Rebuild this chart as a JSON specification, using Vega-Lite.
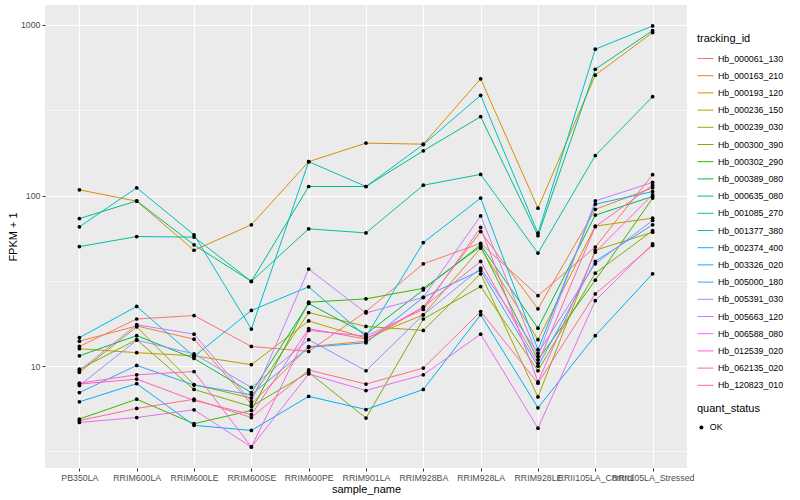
{
  "$schema": "https://vega.github.io/schema/vega-lite/v6.json",
  "width": 642,
  "height": 463,
  "autosize": {"type": "none"},
  "padding": {"left": 45, "top": 5, "right": 113, "bottom": 32},
  "background": "white",
  "config": {
    "font": "Liberation Sans",
    "view": {"fill": "#EBEBEB", "stroke": null},
    "axis": {"domain": false, "labelFont": "Liberation Sans", "titleFont": "Liberation Sans"},
    "legend": {"labelFont": "Liberation Sans", "titleFont": "Liberation Sans"}
  },
  "data": {"values": [
    {"id":"Hb_000193_120","s":"PB350LA","v":108},{"id":"Hb_000193_120","s":"RRIM600LA","v":92.7},{"id":"Hb_000193_120","s":"RRIM600LE","v":47.8},{"id":"Hb_000193_120","s":"RRIM600SE","v":67.4},{"id":"Hb_000193_120","s":"RRIM600PE","v":158},{"id":"Hb_000193_120","s":"RRIM901LA","v":203},{"id":"Hb_000193_120","s":"RRIM928BA","v":200},{"id":"Hb_000193_120","s":"RRIM928LA","v":483},{"id":"Hb_000193_120","s":"RRIM928LE","v":84.4},{"id":"Hb_000193_120","s":"RRII105LA_Control","v":508},{"id":"Hb_000193_120","s":"RRII105LA_Stressed","v":902},
    {"id":"Hb_001377_380","s":"PB350LA","v":65.6},{"id":"Hb_001377_380","s":"RRIM600LA","v":111},{"id":"Hb_001377_380","s":"RRIM600LE","v":58.9},{"id":"Hb_001377_380","s":"RRIM600SE","v":16.5},{"id":"Hb_001377_380","s":"RRIM600PE","v":158},{"id":"Hb_001377_380","s":"RRIM901LA","v":113},{"id":"Hb_001377_380","s":"RRIM928BA","v":199},{"id":"Hb_001377_380","s":"RRIM928LA","v":387},{"id":"Hb_001377_380","s":"RRIM928LE","v":60.2},{"id":"Hb_001377_380","s":"RRII105LA_Control","v":721},{"id":"Hb_001377_380","s":"RRII105LA_Stressed","v":986},
    {"id":"Hb_000635_080","s":"PB350LA","v":73.3},{"id":"Hb_000635_080","s":"RRIM600LA","v":93},{"id":"Hb_000635_080","s":"RRIM600LE","v":51.4},{"id":"Hb_000635_080","s":"RRIM600SE","v":31.4},{"id":"Hb_000635_080","s":"RRIM600PE","v":113},{"id":"Hb_000635_080","s":"RRIM901LA","v":113},{"id":"Hb_000635_080","s":"RRIM928BA","v":183},{"id":"Hb_000635_080","s":"RRIM928LA","v":290},{"id":"Hb_000635_080","s":"RRIM928LE","v":58.2},{"id":"Hb_000635_080","s":"RRII105LA_Control","v":550},{"id":"Hb_000635_080","s":"RRII105LA_Stressed","v":926},
    {"id":"Hb_001085_270","s":"PB350LA","v":50.2},{"id":"Hb_001085_270","s":"RRIM600LA","v":57.5},{"id":"Hb_001085_270","s":"RRIM600LE","v":57.1},{"id":"Hb_001085_270","s":"RRIM600SE","v":31.4},{"id":"Hb_001085_270","s":"RRIM600PE","v":63.8},{"id":"Hb_001085_270","s":"RRIM901LA","v":60.4},{"id":"Hb_001085_270","s":"RRIM928BA","v":115},{"id":"Hb_001085_270","s":"RRIM928LA","v":133},{"id":"Hb_001085_270","s":"RRIM928LE","v":46},{"id":"Hb_001085_270","s":"RRII105LA_Control","v":171.6},{"id":"Hb_001085_270","s":"RRII105LA_Stressed","v":380},
    {"id":"Hb_000061_130","s":"PB350LA","v":13.05},{"id":"Hb_000061_130","s":"RRIM600LA","v":18.9},{"id":"Hb_000061_130","s":"RRIM600LE","v":19.8},{"id":"Hb_000061_130","s":"RRIM600SE","v":13.05},{"id":"Hb_000061_130","s":"RRIM600PE","v":12.2},{"id":"Hb_000061_130","s":"RRIM901LA","v":20.9},{"id":"Hb_000061_130","s":"RRIM928BA","v":39.8},{"id":"Hb_000061_130","s":"RRIM928LA","v":52.5},{"id":"Hb_000061_130","s":"RRIM928LE","v":25.9},{"id":"Hb_000061_130","s":"RRII105LA_Control","v":49.9},{"id":"Hb_000061_130","s":"RRII105LA_Stressed","v":132.6},
    {"id":"Hb_000163_210","s":"PB350LA","v":14.0},{"id":"Hb_000163_210","s":"RRIM600LA","v":17.2},{"id":"Hb_000163_210","s":"RRIM600LE","v":14.4},{"id":"Hb_000163_210","s":"RRIM600SE","v":6.0},{"id":"Hb_000163_210","s":"RRIM600PE","v":13.0},{"id":"Hb_000163_210","s":"RRIM901LA","v":14.0},{"id":"Hb_000163_210","s":"RRIM928BA","v":22.2},{"id":"Hb_000163_210","s":"RRIM928LA","v":61.5},{"id":"Hb_000163_210","s":"RRIM928LE","v":21.7},{"id":"Hb_000163_210","s":"RRII105LA_Control","v":83},{"id":"Hb_000163_210","s":"RRII105LA_Stressed","v":111},
    {"id":"Hb_000236_150","s":"PB350LA","v":12.65},{"id":"Hb_000236_150","s":"RRIM600LA","v":12.0},{"id":"Hb_000236_150","s":"RRIM600LE","v":11.5},{"id":"Hb_000236_150","s":"RRIM600SE","v":10.2},{"id":"Hb_000236_150","s":"RRIM600PE","v":18.4},{"id":"Hb_000236_150","s":"RRIM901LA","v":14.6},{"id":"Hb_000236_150","s":"RRIM928BA","v":20},{"id":"Hb_000236_150","s":"RRIM928LA","v":49.2},{"id":"Hb_000236_150","s":"RRIM928LE","v":14.3},{"id":"Hb_000236_150","s":"RRII105LA_Control","v":66.2},{"id":"Hb_000236_150","s":"RRII105LA_Stressed","v":73.7},
    {"id":"Hb_000239_030","s":"PB350LA","v":9.2},{"id":"Hb_000239_030","s":"RRIM600LA","v":17.0},{"id":"Hb_000239_030","s":"RRIM600LE","v":7.8},{"id":"Hb_000239_030","s":"RRIM600SE","v":6.5},{"id":"Hb_000239_030","s":"RRIM600PE","v":20.6},{"id":"Hb_000239_030","s":"RRIM901LA","v":17.1},{"id":"Hb_000239_030","s":"RRIM928BA","v":16.2},{"id":"Hb_000239_030","s":"RRIM928LA","v":34.8},{"id":"Hb_000239_030","s":"RRIM928LE","v":6.6},{"id":"Hb_000239_030","s":"RRII105LA_Control","v":47.8},{"id":"Hb_000239_030","s":"RRII105LA_Stressed","v":61},
    {"id":"Hb_000300_390","s":"PB350LA","v":9.6},{"id":"Hb_000300_390","s":"RRIM600LA","v":14.3},{"id":"Hb_000300_390","s":"RRIM600LE","v":7.3},{"id":"Hb_000300_390","s":"RRIM600SE","v":5.8},{"id":"Hb_000300_390","s":"RRIM600PE","v":9.2},{"id":"Hb_000300_390","s":"RRIM901LA","v":4.96},{"id":"Hb_000300_390","s":"RRIM928BA","v":18.9},{"id":"Hb_000300_390","s":"RRIM928LA","v":29.3},{"id":"Hb_000300_390","s":"RRIM928LE","v":9.4},{"id":"Hb_000300_390","s":"RRII105LA_Control","v":35.1},{"id":"Hb_000300_390","s":"RRII105LA_Stressed","v":62.2},
    {"id":"Hb_000302_290","s":"PB350LA","v":4.9},{"id":"Hb_000302_290","s":"RRIM600LA","v":6.4},{"id":"Hb_000302_290","s":"RRIM600LE","v":4.6},{"id":"Hb_000302_290","s":"RRIM600SE","v":5.5},{"id":"Hb_000302_290","s":"RRIM600PE","v":23.7},{"id":"Hb_000302_290","s":"RRIM901LA","v":24.8},{"id":"Hb_000302_290","s":"RRIM928BA","v":28.6},{"id":"Hb_000302_290","s":"RRIM928LA","v":50.3},{"id":"Hb_000302_290","s":"RRIM928LE","v":10.9},{"id":"Hb_000302_290","s":"RRII105LA_Control","v":31.9},{"id":"Hb_000302_290","s":"RRII105LA_Stressed","v":96.6},
    {"id":"Hb_000389_080","s":"PB350LA","v":11.5},{"id":"Hb_000389_080","s":"RRIM600LA","v":15.1},{"id":"Hb_000389_080","s":"RRIM600LE","v":11.1},{"id":"Hb_000389_080","s":"RRIM600SE","v":7.0},{"id":"Hb_000389_080","s":"RRIM600PE","v":23.3},{"id":"Hb_000389_080","s":"RRIM901LA","v":15.4},{"id":"Hb_000389_080","s":"RRIM928BA","v":28},{"id":"Hb_000389_080","s":"RRIM928LA","v":51.4},{"id":"Hb_000389_080","s":"RRIM928LE","v":16.7},{"id":"Hb_000389_080","s":"RRII105LA_Control","v":76.8},{"id":"Hb_000389_080","s":"RRII105LA_Stressed","v":98.8},
    {"id":"Hb_002374_400","s":"PB350LA","v":14.7},{"id":"Hb_002374_400","s":"RRIM600LA","v":22.4},{"id":"Hb_002374_400","s":"RRIM600LE","v":11.4},{"id":"Hb_002374_400","s":"RRIM600SE","v":21.2},{"id":"Hb_002374_400","s":"RRIM600PE","v":29.2},{"id":"Hb_002374_400","s":"RRIM901LA","v":14.9},{"id":"Hb_002374_400","s":"RRIM928BA","v":53},{"id":"Hb_002374_400","s":"RRIM928LA","v":96.6},{"id":"Hb_002374_400","s":"RRIM928LE","v":12.5},{"id":"Hb_002374_400","s":"RRII105LA_Control","v":89},{"id":"Hb_002374_400","s":"RRII105LA_Stressed","v":105.5},
    {"id":"Hb_003326_020","s":"PB350LA","v":6.18},{"id":"Hb_003326_020","s":"RRIM600LA","v":7.9},{"id":"Hb_003326_020","s":"RRIM600LE","v":4.5},{"id":"Hb_003326_020","s":"RRIM600SE","v":4.2},{"id":"Hb_003326_020","s":"RRIM600PE","v":6.65},{"id":"Hb_003326_020","s":"RRIM901LA","v":5.57},{"id":"Hb_003326_020","s":"RRIM928BA","v":7.3},{"id":"Hb_003326_020","s":"RRIM928LA","v":20},{"id":"Hb_003326_020","s":"RRIM928LE","v":5.7},{"id":"Hb_003326_020","s":"RRII105LA_Control","v":15.1},{"id":"Hb_003326_020","s":"RRII105LA_Stressed","v":34.8},
    {"id":"Hb_005000_180","s":"PB350LA","v":7.0},{"id":"Hb_005000_180","s":"RRIM600LA","v":10.1},{"id":"Hb_005000_180","s":"RRIM600LE","v":7.75},{"id":"Hb_005000_180","s":"RRIM600SE","v":6.8},{"id":"Hb_005000_180","s":"RRIM600PE","v":12.9},{"id":"Hb_005000_180","s":"RRIM901LA","v":13.7},{"id":"Hb_005000_180","s":"RRIM928BA","v":25.3},{"id":"Hb_005000_180","s":"RRIM928LA","v":36.4},{"id":"Hb_005000_180","s":"RRIM928LE","v":10.0},{"id":"Hb_005000_180","s":"RRII105LA_Control","v":41.2},{"id":"Hb_005000_180","s":"RRII105LA_Stressed","v":67.4},
    {"id":"Hb_005391_030","s":"PB350LA","v":7.7},{"id":"Hb_005391_030","s":"RRIM600LA","v":14.2},{"id":"Hb_005391_030","s":"RRIM600LE","v":11.8},{"id":"Hb_005391_030","s":"RRIM600SE","v":7.5},{"id":"Hb_005391_030","s":"RRIM600PE","v":14.3},{"id":"Hb_005391_030","s":"RRIM901LA","v":9.4},{"id":"Hb_005391_030","s":"RRIM928BA","v":20},{"id":"Hb_005391_030","s":"RRIM928LA","v":37.5},{"id":"Hb_005391_030","s":"RRIM928LE","v":11.9},{"id":"Hb_005391_030","s":"RRII105LA_Control","v":39.8},{"id":"Hb_005391_030","s":"RRII105LA_Stressed","v":71.5},
    {"id":"Hb_005663_120","s":"PB350LA","v":9.4},{"id":"Hb_005663_120","s":"RRIM600LA","v":17.5},{"id":"Hb_005663_120","s":"RRIM600LE","v":15.4},{"id":"Hb_005663_120","s":"RRIM600SE","v":6.2},{"id":"Hb_005663_120","s":"RRIM600PE","v":37.1},{"id":"Hb_005663_120","s":"RRIM901LA","v":20.5},{"id":"Hb_005663_120","s":"RRIM928BA","v":25.3},{"id":"Hb_005663_120","s":"RRIM928LA","v":76},{"id":"Hb_005663_120","s":"RRIM928LE","v":11.4},{"id":"Hb_005663_120","s":"RRII105LA_Control","v":93},{"id":"Hb_005663_120","s":"RRII105LA_Stressed","v":119.5},
    {"id":"Hb_006588_080","s":"PB350LA","v":4.68},{"id":"Hb_006588_080","s":"RRIM600LA","v":5.0},{"id":"Hb_006588_080","s":"RRIM600LE","v":5.55},{"id":"Hb_006588_080","s":"RRIM600SE","v":3.36},{"id":"Hb_006588_080","s":"RRIM600PE","v":9.0},{"id":"Hb_006588_080","s":"RRIM901LA","v":7.2},{"id":"Hb_006588_080","s":"RRIM928BA","v":8.9},{"id":"Hb_006588_080","s":"RRIM928LA","v":15.4},{"id":"Hb_006588_080","s":"RRIM928LE","v":4.33},{"id":"Hb_006588_080","s":"RRII105LA_Control","v":24.2},{"id":"Hb_006588_080","s":"RRII105LA_Stressed","v":52.1},
    {"id":"Hb_012539_020","s":"PB350LA","v":7.95},{"id":"Hb_012539_020","s":"RRIM600LA","v":8.9},{"id":"Hb_012539_020","s":"RRIM600LE","v":9.3},{"id":"Hb_012539_020","s":"RRIM600SE","v":3.36},{"id":"Hb_012539_020","s":"RRIM600PE","v":16.2},{"id":"Hb_012539_020","s":"RRIM901LA","v":15.0},{"id":"Hb_012539_020","s":"RRIM928BA","v":21.5},{"id":"Hb_012539_020","s":"RRIM928LA","v":65},{"id":"Hb_012539_020","s":"RRIM928LE","v":8.1},{"id":"Hb_012539_020","s":"RRII105LA_Control","v":46.6},{"id":"Hb_012539_020","s":"RRII105LA_Stressed","v":101},
    {"id":"Hb_062135_020","s":"PB350LA","v":7.85},{"id":"Hb_062135_020","s":"RRIM600LA","v":8.4},{"id":"Hb_062135_020","s":"RRIM600LE","v":6.3},{"id":"Hb_062135_020","s":"RRIM600SE","v":5.2},{"id":"Hb_062135_020","s":"RRIM600PE","v":16.6},{"id":"Hb_062135_020","s":"RRIM901LA","v":14.4},{"id":"Hb_062135_020","s":"RRIM928BA","v":22.2},{"id":"Hb_062135_020","s":"RRIM928LA","v":41.1},{"id":"Hb_062135_020","s":"RRIM928LE","v":10.4},{"id":"Hb_062135_020","s":"RRII105LA_Control","v":65.7},{"id":"Hb_062135_020","s":"RRII105LA_Stressed","v":115},
    {"id":"Hb_120823_010","s":"PB350LA","v":4.8},{"id":"Hb_120823_010","s":"RRIM600LA","v":5.65},{"id":"Hb_120823_010","s":"RRIM600LE","v":6.4},{"id":"Hb_120823_010","s":"RRIM600SE","v":5.0},{"id":"Hb_120823_010","s":"RRIM600PE","v":9.5},{"id":"Hb_120823_010","s":"RRIM901LA","v":7.85},{"id":"Hb_120823_010","s":"RRIM928BA","v":9.75},{"id":"Hb_120823_010","s":"RRIM928LA","v":20.9},{"id":"Hb_120823_010","s":"RRIM928LE","v":7.95},{"id":"Hb_120823_010","s":"RRII105LA_Control","v":26.5},{"id":"Hb_120823_010","s":"RRII105LA_Stressed","v":51}
  ]},
  "encoding": {
    "x": {
      "field": "s", "type": "nominal",
      "sort": ["PB350LA","RRIM600LA","RRIM600LE","RRIM600SE","RRIM600PE","RRIM901LA","RRIM928BA","RRIM928LA","RRIM928LE","RRII105LA_Control","RRII105LA_Stressed"],
      "scale": {"type": "point", "padding": 0.6},
      "axis": {"title": "sample_name", "titleFontSize": 11, "titleFontWeight": "normal", "titleColor": "black", "titlePadding": 2,
               "labelAngle": 0, "labelFontSize": 8.8, "labelColor": "#4D4D4D", "labelOverlap": false, "labelFlush": false, "labelPadding": 2,
               "tickSize": 3, "tickColor": "#333333", "grid": true, "gridColor": "white", "gridWidth": 1.1}
    },
    "y": {
      "field": "v", "type": "quantitative",
      "scale": {"type": "log", "domain": [2.53, 1309], "nice": false},
      "axis": {"title": "FPKM + 1", "titleFontSize": 11, "titleFontWeight": "normal", "titleColor": "black", "titlePadding": 2,
               "values": [3.16228, 10, 31.6228, 100, 316.228, 1000], "format": "d",
               "labelExpr": "datum.value == 10 || datum.value == 100 || datum.value == 1000 ? datum.label : ''",
               "labelFontSize": 8.8, "labelColor": "#4D4D4D", "labelPadding": 2, "tickSize": 3, "tickColor": "#333333",
               "tickOpacity": {"condition": {"test": "datum.value == 10 || datum.value == 100 || datum.value == 1000", "value": 1}, "value": 0},
               "grid": true, "gridColor": "white",
               "gridWidth": {"condition": {"test": "datum.value == 10 || datum.value == 100 || datum.value == 1000", "value": 1.1}, "value": 0.55}}
    }
  },
  "layer": [
    {
      "mark": {"type": "line", "strokeWidth": 1},
      "encoding": {
        "color": {
          "field": "id", "type": "nominal",
          "scale": {
            "domain": ["Hb_000061_130","Hb_000163_210","Hb_000193_120","Hb_000236_150","Hb_000239_030","Hb_000300_390","Hb_000302_290","Hb_000389_080","Hb_000635_080","Hb_001085_270","Hb_001377_380","Hb_002374_400","Hb_003326_020","Hb_005000_180","Hb_005391_030","Hb_005663_120","Hb_006588_080","Hb_012539_020","Hb_062135_020","Hb_120823_010"],
            "range": ["#F8766D","#EA8331","#D89000","#C09B00","#A3A500","#7CAE00","#39B600","#00BB4E","#00BF7D","#00C1A3","#00BFC4","#00BAE0","#00B0F6","#35A2FF","#9590FF","#C77CFF","#E76BF3","#FA62DB","#FF62BC","#FF6C91"]
          },
          "legend": {"title": "tracking_id", "orient": "none", "legendX": 652, "legendY": 28,
                     "titleFontSize": 11, "titleFontWeight": "normal", "titleColor": "black", "titlePadding": 6,
                     "labelFontSize": 8.8, "labelColor": "black", "labelOffset": 4,
                     "symbolType": "stroke", "symbolSize": 256, "symbolStrokeWidth": 1, "rowPadding": 3.2}
        }
      }
    },
    {
      "mark": {"type": "point", "filled": true, "color": "black", "size": 14, "opacity": 1},
      "encoding": {
        "shape": {"datum": "OK", "type": "nominal", "scale": {"range": ["circle"]},
                  "legend": {"title": "quant_status", "orient": "none", "legendX": 652, "legendY": 398,
                             "titleFontSize": 11, "titleFontWeight": "normal", "titleColor": "black", "titlePadding": 9,
                             "labelFontSize": 8.8, "labelColor": "black", "labelOffset": 4,
                             "symbolSize": 16, "symbolFillColor": "black", "symbolStrokeColor": "black"}}
      }
    }
  ]
}
